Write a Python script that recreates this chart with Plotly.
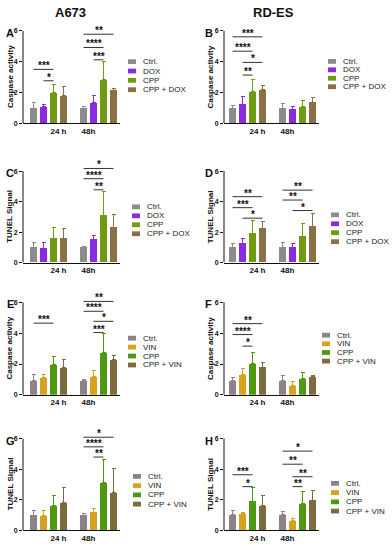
import plotly.graph_objects as go

W, H = 392, 550

dox_cats = ["Ctrl.", "DOX", "CPP", "CPP + DOX"]
vin_cats = ["Ctrl.", "VIN", "CPP", "CPP + VIN"]
time_labels = ["24 h", "48h"]
column_titles = ["A673", "RD-ES"]

dox_colors = ["#8c8c8c", "#8a2be2", "#6f9a12", "#8b7045"]
vin_colors = ["#8f8189", "#d9a21e", "#4f9912", "#7c6b3e"]

# order: Ctrl, X, CPP, CPP+X at 24 h, then the same at 48 h
A_mean = [0.97, 1.06, 1.99, 1.79, 0.99, 1.34, 2.83, 2.16]
A_err = [0.39, 0.13, 0.56, 0.61, 0.13, 0.45, 1.18, 0.11]
B_mean = [0.97, 1.25, 2.05, 2.18, 0.97, 0.90, 1.08, 1.36]
B_err = [0.17, 0.48, 0.82, 0.30, 0.33, 0.22, 0.41, 0.34]
C_mean = [0.97, 0.91, 1.60, 1.55, 0.99, 1.49, 3.06, 2.31]
C_err = [0.35, 0.41, 0.67, 0.67, 0.09, 0.30, 1.58, 0.82]
D_mean = [1.01, 1.25, 1.92, 2.22, 1.01, 1.01, 1.73, 2.35]
D_err = [0.22, 0.30, 0.82, 0.48, 0.33, 0.22, 0.86, 0.89]
E_mean = [0.95, 1.12, 1.94, 1.76, 0.95, 1.20, 2.77, 2.30]
E_err = [0.38, 0.23, 0.55, 0.54, 0.06, 0.35, 1.19, 0.26]
F_mean = [0.95, 1.33, 2.02, 1.80, 0.95, 0.62, 1.03, 1.18]
F_err = [0.15, 0.37, 0.75, 0.33, 0.28, 0.26, 0.41, 0.09]
G_mean = [0.97, 0.93, 1.60, 1.79, 0.97, 1.17, 3.09, 2.46]
G_err = [0.32, 0.34, 0.67, 0.97, 0.13, 0.25, 1.55, 1.55]
H_mean = [0.99, 1.08, 1.90, 1.60, 0.99, 0.60, 1.73, 1.96]
H_err = [0.30, 0.06, 0.86, 0.67, 0.24, 0.18, 0.80, 0.63]

# significance: (time index, group i, group j, bracket height, label)
A_sig = [(0, 0, 2, 3.50, "***"), (0, 1, 2, 2.76, "*"), (1, 0, 3, 5.78, "**"),
         (1, 0, 2, 4.92, "****"), (1, 1, 2, 4.12, "***")]
B_sig = [(0, 0, 3, 5.61, "***"), (0, 0, 2, 4.68, "****"), (0, 1, 3, 3.95, "*"),
         (0, 1, 2, 3.13, "**")]
C_sig = [(1, 0, 3, 6.17, "*"), (1, 0, 2, 5.50, "****"), (1, 1, 2, 4.77, "**")]
D_sig = [(0, 0, 3, 4.32, "**"), (0, 0, 2, 3.60, "***"), (0, 1, 3, 2.91, "*"),
         (1, 0, 3, 4.75, "**"), (1, 0, 2, 4.10, "**"), (1, 1, 3, 3.41, "*")]
E_sig = [(0, 0, 2, 4.65, "***"), (1, 0, 3, 6.06, "**"), (1, 0, 2, 5.42, "****"),
         (1, 1, 3, 4.77, "*"), (1, 1, 2, 4.04, "***")]
F_sig = [(0, 0, 3, 4.62, "**"), (0, 0, 2, 3.91, "****"), (0, 1, 2, 3.16, "*")]
G_sig = [(1, 0, 3, 6.09, "*"), (1, 0, 2, 5.46, "****"), (1, 1, 2, 4.79, "**")]
H_sig = [(0, 0, 2, 3.63, "***"), (0, 1, 2, 2.85, "*"), (1, 0, 3, 5.18, "*"),
         (1, 0, 2, 4.32, "**"), (1, 1, 3, 3.50, "**"), (1, 1, 2, 2.85, "**")]

y_ticks = [0, 2, 4, 6]

panels = [
    ("A", 0, 0, A_mean, A_err, A_sig, dox_cats, dox_colors, "Caspase activity", (128, 62, 9.4)),
    ("B", 1, 0, B_mean, B_err, B_sig, dox_cats, dox_colors, "Caspase activity", (328, 61.7, 8.5)),
    ("C", 0, 1, C_mean, C_err, C_sig, dox_cats, dox_colors, "TUNEL Signal", (132, 208, 9.0)),
    ("D", 1, 1, D_mean, D_err, D_sig, dox_cats, dox_colors, "TUNEL Signal", (331, 216, 9.0)),
    ("E", 0, 2, E_mean, E_err, E_sig, vin_cats, vin_colors, "Caspase activity", (128, 340, 9.0)),
    ("F", 1, 2, F_mean, F_err, F_sig, vin_cats, vin_colors, "Caspase activity", (322, 337, 8.7)),
    ("G", 0, 3, G_mean, G_err, G_sig, vin_cats, vin_colors, "TUNEL Signal", (133, 479, 9.3)),
    ("H", 1, 3, H_mean, H_err, H_sig, vin_cats, vin_colors, "TUNEL Signal", (331, 486, 9.3)),
]

col_geo = [(23, 120, -1.05, 8.65), (224, 319, -0.85, 8.65)]
row_geo = [(31, 124), (172, 264), (304, 397), (441, 533)]
YMAX = 6.5

FONT = "Liberation Sans, Arial, sans-serif"
fig = go.Figure()
shapes, annotations = [], []
layout = {}

for k, (letter, col, row, mean, err, sig, cats, colors, ytitle, leg) in enumerate(panels):
    n = k + 1
    xa = "x" if n == 1 else f"x{n}"
    ya = "y" if n == 1 else f"y{n}"
    xl, xr, r0, r1 = col_geo[col]
    y6, y0 = row_geo[row]
    ppu = (y0 - y6) / 6.0
    ytop = y0 - YMAX * ppu
    layout["xaxis" if n == 1 else f"xaxis{n}"] = dict(
        domain=[xl / W, xr / W], range=[r0, r1], anchor=ya,
        showline=True, linecolor="#111", linewidth=1, showgrid=False, zeroline=False,
        tickvals=[2.5, 5.5], ticktext=time_labels, ticks="",
        tickfont=dict(family=FONT, size=8, color="#111", weight="bold"),
        fixedrange=True)
    layout["yaxis" if n == 1 else f"yaxis{n}"] = dict(
        domain=[1 - y0 / H, 1 - ytop / H], range=[0, YMAX], anchor=xa,
        showline=False, showgrid=False, zeroline=False,
        tickvals=y_ticks, ticks="outside", ticklen=3, tickcolor="#111", tickwidth=1,
        tickfont=dict(family=FONT, size=7, color="#111", weight="bold"),
        fixedrange=True)
    # y-axis line from 0 to 6
    shapes.append(dict(type="line", xref=f"{xa} domain", yref=ya, x0=0, x1=0,
                       y0=0, y1=6, line=dict(color="#111", width=1)))
    for c, cat in enumerate(cats):
        xs = [t * 5 + c for t in range(2)]
        ys = [mean[t * 4 + c] for t in range(2)]
        es = [err[t * 4 + c] for t in range(2)]
        fig.add_trace(go.Bar(
            x=xs, y=ys, width=0.7, marker=dict(color=colors[c], line=dict(width=0)),
            error_y=dict(type="data", array=es, arrayminus=[0, 0], symmetric=False,
                         color=colors[c], thickness=1, width=2),
            xaxis=xa, yaxis=ya, showlegend=False, name=cat))
    for (t, i, j, yv, lab) in sig:
        shapes.append(dict(type="line", xref=xa, yref=ya, x0=t * 5 + i, x1=t * 5 + j,
                           y0=yv, y1=yv, line=dict(color="#333", width=1)))
        annotations.append(dict(xref=xa, yref=ya, x=t * 5 + (i + j) / 2, y=yv, text=lab,
                                showarrow=False, yanchor="bottom", yshift=-4,
                                font=dict(family=FONT, size=10, color="#111", weight="bold")))
    # y title
    tx = 10 if col == 0 else 210.5
    annotations.append(dict(xref="paper", yref="paper", x=tx / W, y=1 - (y6 + y0) / 2 / H,
                            text=ytitle, textangle=-90, showarrow=False,
                            xanchor="center", yanchor="middle",
                            font=dict(family=FONT, size=8, color="#111", weight="bold")))
    # panel letter
    lx = 10 if col == 0 else 208.5
    annotations.append(dict(xref="paper", yref="paper", x=lx / W, y=1 - (y6 + 2) / H,
                            text=letter, showarrow=False, xanchor="center", yanchor="middle",
                            font=dict(family=FONT, size=11, color="#111", weight="bold")))
    # legend
    sx, sy, dy = leg
    for c, cat in enumerate(cats):
        cy = sy + c * dy
        shapes.append(dict(type="rect", xref="paper", yref="paper",
                           x0=sx / W, x1=(sx + 8) / W, y0=1 - (cy + 2.4) / H, y1=1 - (cy - 2.4) / H,
                           fillcolor=colors[c], line=dict(width=0)))
        annotations.append(dict(xref="paper", yref="paper", x=(sx + 13) / W, y=1 - cy / H,
                                text=cat, showarrow=False, xanchor="left", yanchor="middle",
                                font=dict(family=FONT, size=8, color="#222")))

for col, title in enumerate(column_titles):
    cx = 70 if col == 0 else 273
    annotations.append(dict(xref="paper", yref="paper", x=cx / W, y=1 - 13 / H, text=title,
                            showarrow=False, xanchor="center", yanchor="middle",
                            font=dict(family=FONT, size=13, color="#111", weight="bold")))

fig.update_layout(
    width=W, height=H, margin=dict(l=0, r=0, t=0, b=0),
    paper_bgcolor="white", plot_bgcolor="white",
    shapes=shapes, annotations=annotations, bargap=0, showlegend=False,
    **layout)

fig.write_html("out.html", config={"displayModeBar": False},
               post_script="document.body.style.margin='0px';document.body.style.overflow='hidden';")
